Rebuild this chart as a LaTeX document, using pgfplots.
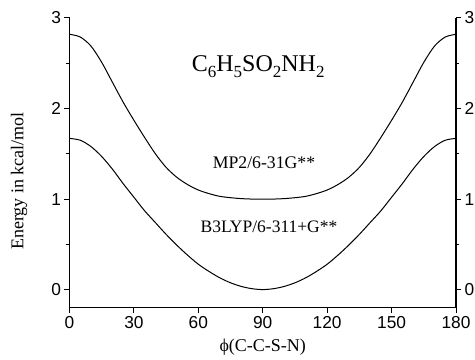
\documentclass[border=0pt]{standalone}
\usepackage{fontspec}
\setmainfont{Liberation Serif}
\newfontfamily\arial{Liberation Sans}
\usepackage{pgfplots}
\pgfplotsset{compat=1.18}
\newcommand\sub[1]{\raisebox{-6bp}{\fontsize{17bp}{17bp}\selectfont #1}}
\begin{document}
\begin{tikzpicture}
\pgfplotsset{
 common/.style={
  scale only axis, width=386.5bp, height=289.7bp,
  xmin=0,xmax=180,ymin=-0.2,ymax=3,
  tick align=outside,
  major tick length=5bp, minor tick length=3bp,
  every tick/.style={black, line width=1bp},
  axis line style={line width=1.3bp},
  ticklabel style={font=\arial\fontsize{17.3bp}{18bp}\selectfont},
  /pgf/number format/assume math mode=true,
  ytick={0,1,2,3}, minor y tick num=1,
 }
}
\begin{axis}[common,
  axis x line*=bottom, axis y line*=left,
  xtick={0,30,...,180},
  label style={font=\fontsize{18bp}{20bp}\selectfont},
  xlabel={ϕ(C-C-S-N)},
  ylabel={Energy in kcal/mol},
  xlabel style={at={(axis description cs:0.5,-0.1357)},anchor=center},
  ylabel style={at={(axis description cs:-0.1307,0.437)},anchor=center},
]
\coordinate (SW) at (rel axis cs:0,0);
\addplot[black, line width=1bp, smooth] coordinates {
(0,2.82)(5,2.79)(10,2.69)(15,2.51)(20,2.29)(25,2.07)(30,1.87)(35,1.68)(40,1.50)(45,1.35)
(50,1.24)(55,1.16)(60,1.10)(65,1.06)(70,1.03)(75,1.015)(80,1.005)(85,1.0)(90,1.0)
(95,1.0)(100,1.005)(105,1.015)(110,1.03)(115,1.06)(120,1.10)(125,1.16)(130,1.24)(135,1.35)
(140,1.50)(145,1.68)(150,1.87)(155,2.07)(160,2.29)(165,2.51)(170,2.69)(175,2.79)(180,2.82)};
\addplot[black, line width=1bp, smooth] coordinates {
(0,1.67)(5,1.65)(10,1.58)(15,1.47)(20,1.33)(25,1.17)(30,1.02)(35,0.87)(40,0.74)(45,0.61)
(50,0.49)(55,0.38)(60,0.28)(65,0.20)(70,0.13)(75,0.075)(80,0.035)(85,0.01)(90,0.0)
(95,0.01)(100,0.035)(105,0.075)(110,0.13)(115,0.20)(120,0.28)(125,0.38)(130,0.49)(135,0.61)
(140,0.74)(145,0.87)(150,1.02)(155,1.17)(160,1.33)(165,1.47)(170,1.58)(175,1.65)(180,1.67)};
\node[anchor=base, inner sep=0pt, font=\fontsize{24bp}{26bp}\selectfont] at (axis cs:87.9,2.41)
  {C\sub{6}H\sub{5}SO\sub{2}NH\sub{2}};
\node[anchor=base, inner sep=0pt, font=\fontsize{17.7bp}{19bp}\selectfont] at (axis cs:90.6,1.338) {MP2/6-31G**};
\node[anchor=base, inner sep=0pt, font=\fontsize{17.5bp}{19bp}\selectfont] at (axis cs:92.9,0.633) {B3LYP/6-311+G**};
\end{axis}
\begin{axis}[common,
  axis x line=none, axis y line*=right,
]
\end{axis}
\pgfresetboundingbox
\useasboundingbox (SW) ++(-69.5bp,-52.3bp) rectangle ++(475bp,360bp);
\end{tikzpicture}
\end{document}
